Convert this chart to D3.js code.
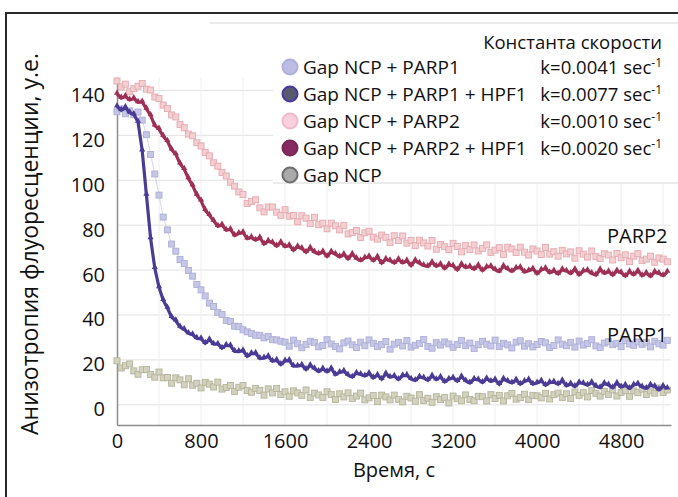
<!DOCTYPE html>
<html>
<head>
<meta charset="utf-8">
<script src="https://cdn.jsdelivr.net/npm/d3@7"></script>
<style>
  html, body { margin: 0; padding: 0; background: #fff; }
  svg { display: block; font-family: "Open Sans", sans-serif; }
</style>
</head>
<body>
<svg id="chart" width="678" height="497"></svg>
<script>
// ---- data (sampled every 40 s, from 0 to 5240 s) ----
const timeStep = 40;
const seriesNames = ["Gap NCP + PARP1", "Gap NCP + PARP1 + HPF1", "Gap NCP + PARP2", "Gap NCP + PARP2 + HPF1", "Gap NCP"];
const rateConstants = ["k=0.0041 sec", "k=0.0077 sec", "k=0.0010 sec", "k=0.0020 sec", ""];
const xTicks = [0, 800, 1600, 2400, 3200, 4000, 4800];
const yTicks = [0, 20, 40, 60, 80, 100, 120, 140];

const parp1 = [130.5,131.8,129.6,130.9,129.2,130.4,126.8,120.3,111.5,102.8,93.4,83.6,77.9,71.6,68.4,64.7,62.9,59.8,57.3,53.6,
51.2,48.5,45.3,43.8,41.1,40.2,37.6,37.1,35.0,34.8,33.4,32.5,31.8,31.0,30.9,29.8,30.4,29.0,28.9,28.3,
27.9,26.1,28.8,27.2,25.4,26.9,28.3,27.7,25.8,26.4,29.0,27.1,26.0,24.9,27.6,28.4,26.7,25.5,27.9,26.3,
28.9,27.4,25.9,26.8,28.2,24.8,27.0,27.8,26.2,28.6,25.7,26.5,27.3,29.1,26.0,25.2,27.7,26.6,28.0,27.1,
25.6,26.9,28.7,26.3,27.5,25.1,26.8,28.3,27.0,26.2,28.8,25.9,27.4,26.7,25.3,27.9,28.5,26.1,27.2,25.8,
26.9,28.2,27.6,25.5,26.4,28.9,27.0,26.3,27.8,25.7,28.4,26.6,27.3,29.0,26.2,25.6,27.5,28.1,26.8,27.4,
25.9,28.6,27.1,26.5,28.0,26.9,27.7,25.8,28.3,27.2,26.6,28.7];

const parp1Hpf1 = [132.8,131.2,132.4,130.1,129.3,126.0,113.2,93.5,74.1,60.8,52.3,46.6,43.1,39.0,37.4,34.6,33.5,31.8,31.2,29.6,
29.4,27.4,29.0,27.0,27.0,25.2,26.5,26.3,23.8,23.7,24.1,21.6,22.8,22.9,20.6,20.8,21.5,19.4,19.8,17.9,
19.5,19.7,17.2,17.2,17.6,15.7,17.5,16.1,14.8,16.0,14.7,16.1,13.4,14.4,14.9,13.2,12.3,14.1,13.5,12.8,
13.9,12.0,13.2,11.4,13.8,12.3,12.7,11.3,12.9,13.1,11.4,10.8,12.4,11.9,10.9,12.8,11.2,12.3,10.2,11.4,
11.9,10.5,12.5,10.6,9.7,11.4,11.1,9.9,11.6,10.4,11.1,9.1,11.5,10.5,9.7,11.0,9.2,10.4,11.1,9.2,
9.7,10.6,8.7,9.9,10.1,9.1,10.7,8.5,9.3,8.1,9.8,9.5,8.7,9.9,8.2,7.6,9.5,8.8,7.6,9.6,
7.9,8.7,7.3,8.8,9.3,7.9,7.3,8.8,8.1,6.7,8.2,7.2];

const parp2 = [144.2,141.6,142.8,139.4,140.8,141.9,143.1,140.6,140.2,137.1,136.4,133.5,132.0,129.1,128.2,124.8,123.4,120.6,119.8,116.7,
115.3,112.4,110.9,107.8,106.3,103.5,101.9,99.1,97.4,94.8,93.7,89.7,90.6,91.3,87.7,85.9,88.1,88.1,85.8,84.4,
86.9,84.0,84.3,81.5,84.2,83.1,80.7,83.5,80.2,80.9,78.4,80.9,79.7,77.9,79.9,76.1,76.7,77.6,74.5,76.6,
77.3,74.7,73.8,75.6,74.6,72.2,75.3,73.2,75.2,72.0,73.2,70.9,73.3,72.1,70.7,73.2,69.3,71.4,70.4,69.1,
71.9,70.5,68.1,70.9,69.2,71.2,68.5,69.7,71.2,67.9,68.9,70.0,67.0,70.2,69.4,67.8,70.2,68.0,66.7,69.4,
68.5,66.9,70.1,67.1,68.2,66.2,68.8,67.2,68.1,65.3,68.6,67.1,65.8,68.5,66.0,65.2,67.3,66.7,64.5,67.4,
65.5,66.8,63.8,66.2,67.3,64.2,64.9,66.2,63.5,65.4,64.9,63.7];

const parp2Hpf1 = [138.4,136.6,137.3,135.8,136.4,134.7,134.9,131.8,128.9,124.3,122.8,119.6,117.4,113.6,111.5,107.4,104.9,100.8,97.6,93.5,
90.9,86.6,84.4,81.9,79.5,80.1,77.7,78.1,75.4,76.3,76.7,74.0,74.5,73.3,74.4,71.6,72.9,72.2,70.7,72.3,
70.4,71.0,68.8,70.4,69.6,67.9,69.8,68.0,67.2,68.2,66.1,68.1,67.0,65.9,66.9,65.0,67.1,65.1,64.2,65.4,
65.9,64.2,65.8,63.1,64.8,64.2,63.1,64.7,63.2,64.1,62.0,64.3,63.0,62.0,61.6,63.4,61.7,62.5,60.7,62.4,
61.8,60.1,62.5,61.1,61.5,60.4,62.0,59.8,61.3,61.6,60.1,59.3,61.7,60.4,59.4,60.8,61.2,59.1,59.7,60.5,
58.4,60.0,60.7,58.8,59.6,58.3,60.2,59.5,58.5,60.2,57.9,59.5,59.8,58.5,57.8,60.1,58.5,59.3,57.8,59.6,
58.8,57.3,59.2,57.9,59.6,57.5,58.6,57.2,59.1,58.5,57.5,59.1];

const gapNcp = [19.6,16.4,17.4,18.2,15.1,13.6,15.6,15.7,13.5,12.3,14.6,12.0,12.2,9.6,12.0,11.1,8.9,11.6,8.7,9.6,
7.5,10.0,9.2,7.9,10.1,7.0,7.7,8.6,5.9,7.8,8.6,6.4,5.6,7.3,6.4,4.3,7.1,5.3,7.3,4.6,
5.8,3.8,6.2,5.3,4.2,6.6,3.3,5.2,4.4,3.3,5.8,4.6,2.4,4.9,3.5,5.3,2.8,3.9,5.2,2.2,
3.1,4.1,1.4,4.3,3.5,2.2,4.3,2.4,1.3,3.8,3.0,1.6,4.5,1.9,2.9,1.1,3.6,2.3,3.2,0.8,
3.9,2.7,1.8,4.4,2.4,1.8,3.8,3.6,1.7,4.5,2.8,4.2,1.7,4.0,5.1,2.5,3.2,4.7,2.3,4.2,
4.0,3.1,5.1,2.6,4.5,5.2,3.3,4.9,2.8,5.7,4.2,5.4,3.5,6.4,5.1,3.9,5.9,4.6,6.6,3.9,
5.5,6.4,3.8,6.2,5.4,7.0,4.6,6.2,5.2,7.5,5.5,6.6];

// ---- layout ----
const svg = d3.select("#chart");
const x = d3.scaleLinear().domain([0, 5275]).range([117, 671]);
const y = d3.scaleLinear().domain([-9, 146]).range([425, 77]);

// outer frame
svg.append("rect").attr("x", 6).attr("y", 13).attr("width", 720).attr("height", 520)
  .attr("fill", "none").attr("stroke", "#2a2a2a").attr("stroke-width", 2);

// gridlines
const gGrid = svg.append("g");
gGrid.selectAll("line.h").data(yTicks).join("line")
  .attr("x1", x(0)).attr("x2", x(5275)).attr("y1", d => y(d)).attr("y2", d => y(d))
  .attr("stroke", "#e3e3e3").attr("stroke-width", 1);
gGrid.selectAll("line.v").data(d3.range(400, 5275, 400)).join("line")
  .attr("x1", d => x(d)).attr("x2", d => x(d)).attr("y1", y(146)).attr("y2", y(-9))
  .attr("stroke", "#eeeeee").attr("stroke-width", 1);

// axes
const xAxis = d3.axisBottom(x).tickValues(xTicks).tickFormat(d3.format("d")).tickSize(0).tickPadding(9);
const yAxis = d3.axisLeft(y).tickValues(yTicks).tickFormat(d3.format("d")).tickSize(0).tickPadding(12);
const gx = svg.append("g").attr("transform", `translate(0,${y(-9)})`).call(xAxis);
const gy = svg.append("g").attr("transform", `translate(${x(0)},0)`).call(yAxis);
gx.select(".domain").attr("stroke", "#8c8c8c").attr("stroke-width", 1.5);
gy.select(".domain").attr("stroke", "#8c8c8c").attr("stroke-width", 1.5);
[gx, gy].forEach(g => g.selectAll("text").attr("font-size", 20).attr("fill", "#111")
  .attr("font-family", "'Open Sans', sans-serif"));
gy.selectAll("text").attr("dy", "0.55em");

// ---- series ----
const series = [
  {name: seriesNames[4], values: gapNcp, type: "sq", fill: "#d2d2bf", stroke: "#b4b49c"},
  {name: seriesNames[2], values: parp2, type: "sq", fill: "#f3cfd1", stroke: "#e4a9b1"},
  {name: seriesNames[0], values: parp1, type: "sq", fill: "#c6c6e6", stroke: "#aeaed8"},
  {name: seriesNames[3], values: parp2Hpf1, type: "line", stroke: "#9e2f55"},
  {name: seriesNames[1], values: parp1Hpf1, type: "line", stroke: "#4b3b95"}
];
const line = d3.line().x((d, i) => x(i * timeStep)).y(d => y(d));
series.forEach(s => {
  const g = svg.append("g");
  if (s.type === "sq") {
    g.append("path").attr("d", line(s.values)).attr("fill", "none")
      .attr("stroke", s.stroke).attr("stroke-width", 1).attr("opacity", 0.5);
    g.selectAll("rect").data(s.values).join("rect")
      .attr("x", (d, i) => x(i * timeStep) - 3).attr("y", d => y(d) - 3)
      .attr("width", 6).attr("height", 6)
      .attr("fill", s.fill).attr("stroke", s.stroke).attr("stroke-width", 0.9);
  } else {
    g.append("path").attr("d", line(s.values)).attr("fill", "none")
      .attr("stroke", s.stroke).attr("stroke-width", 3.2).attr("stroke-linejoin", "miter");
    g.selectAll("path.m").data(s.values).join("path").attr("class", "m")
      .attr("d", d3.symbol(d3.symbolTriangle, 16))
      .attr("transform", (d, i) => `translate(${x(i * timeStep)},${y(d) - 1})`)
      .attr("fill", s.stroke);
  }
});

// curve labels
svg.append("text").attr("x", 607).attr("y", 243).text("PARP2")
  .attr("font-size", 20).attr("fill", "#111");
svg.append("text").attr("x", 607).attr("y", 342).text("PARP1")
  .attr("font-size", 20).attr("fill", "#111");

// axis titles
svg.append("text").attr("transform", "translate(38,244) rotate(-90)")
  .attr("text-anchor", "middle").attr("font-size", 23).attr("fill", "#111")
  .text("Анизотропия флуоресценции, у.е.");
svg.append("text").attr("x", 394).attr("y", 477).attr("text-anchor", "middle")
  .attr("font-size", 20).attr("fill", "#111").text("Время, с");

// ---- legend ----
const lg = svg.append("g");
lg.append("rect").attr("x", 273).attr("y", 23).attr("width", 420).attr("height", 160).attr("fill", "#fff");
lg.append("line").attr("x1", 210).attr("x2", 678).attr("y1", 23).attr("y2", 23).attr("stroke", "#d8d8d8");
lg.append("line").attr("x1", 273).attr("x2", 678).attr("y1", 183).attr("y2", 183).attr("stroke", "#d8d8d8");
lg.append("text").attr("x", 662).attr("y", 49).attr("text-anchor", "end")
  .attr("font-size", 18.5).attr("fill", "#111").text("Константа скорости");
const legendMarks = [
  {fill: "#bcbce4", stroke: "#b0b0da"},
  {fill: "#5a5a6e", stroke: "#4a3aa0"},
  {fill: "#fbd0de", stroke: "#f2b8cb"},
  {fill: "#842a60", stroke: "#7a2658"},
  {fill: "#aaaaaa", stroke: "#6e6e6e"}
];
const rowY = [67, 94, 121, 148, 175];
seriesNames.forEach((n, i) => {
  lg.append("circle").attr("cx", 290).attr("cy", rowY[i]).attr("r", 7.5)
    .attr("fill", legendMarks[i].fill).attr("stroke", legendMarks[i].stroke).attr("stroke-width", 2);
  lg.append("text").attr("x", 303).attr("y", rowY[i] + 6.5).attr("font-size", 19).attr("fill", "#111").text(n);
  if (rateConstants[i]) {
    const t = lg.append("text").attr("x", 662).attr("y", rowY[i] + 6.5).attr("text-anchor", "end")
      .attr("font-size", 18.5).attr("fill", "#111");
    t.append("tspan").text(rateConstants[i]);
    t.append("tspan").attr("font-size", 12).attr("dy", -7).text("-1");
  }
});
</script>
</body>
</html>
